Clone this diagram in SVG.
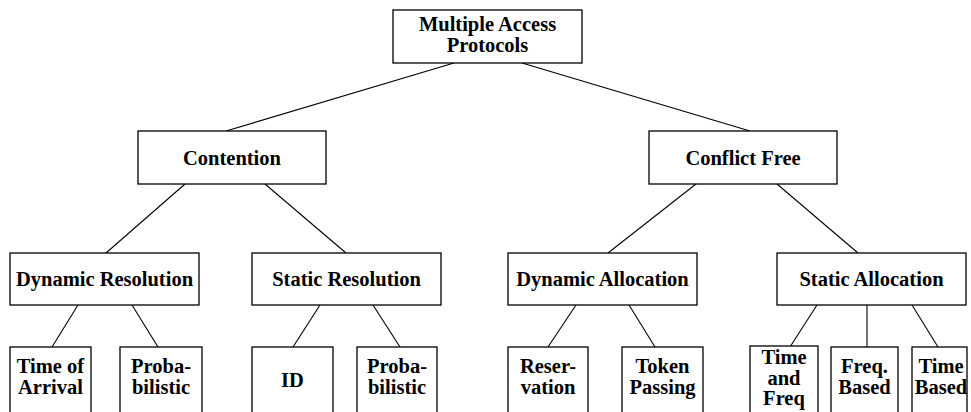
<svg xmlns="http://www.w3.org/2000/svg" width="971" height="412" viewBox="0 0 971 412">
<style>
.box{fill:#fff;stroke:#000;stroke-width:1.3}
.t{font-family:'Liberation Serif', Tinos, 'Times New Roman', Times, serif;font-weight:700;font-size:20.5px;text-anchor:middle;fill:#000}
.c line{stroke:#000;stroke-width:1.1}
</style>
<rect width="971" height="412" fill="#fff"/>
<g class="c" id="connectors">
<line x1="454" y1="63" x2="226" y2="131"/>
<line x1="522" y1="63" x2="750" y2="131"/>
<line x1="185" y1="184" x2="106" y2="253"/>
<line x1="265" y1="184" x2="346" y2="253"/>
<line x1="696" y1="184" x2="608" y2="253"/>
<line x1="777" y1="184" x2="858" y2="253"/>
<line x1="78" y1="305" x2="52" y2="347"/>
<line x1="132" y1="305" x2="158" y2="347"/>
<line x1="320" y1="305" x2="293" y2="347"/>
<line x1="373" y1="305" x2="400" y2="347"/>
<line x1="576" y1="305" x2="548" y2="347"/>
<line x1="629" y1="305" x2="655" y2="347"/>
<line x1="817" y1="305" x2="790" y2="347"/>
<line x1="867" y1="305" x2="867" y2="347"/>
<line x1="912" y1="305" x2="938" y2="347"/>
</g>
<g id="root"><rect class="box" x="393" y="10" width="189" height="53"/><text class="t" x="487.5" y="31">Multiple Access</text><text class="t" x="487.5" y="52">Protocols</text></g>
<g id="contention"><rect class="box" x="138" y="131" width="188" height="53"/><text class="t" x="232" y="165">Contention</text></g>
<g id="conflictfree"><rect class="box" x="649" y="131" width="188" height="53"/><text class="t" x="743" y="165">Conflict Free</text></g>
<g id="dynres"><rect class="box" x="10" y="253" width="189" height="52"/><text class="t" x="104.5" y="286">Dynamic Resolution</text></g>
<g id="statres"><rect class="box" x="252" y="253" width="189" height="52"/><text class="t" x="346.5" y="286">Static Resolution</text></g>
<g id="dynalloc"><rect class="box" x="508" y="253" width="189" height="52"/><text class="t" x="602.5" y="286">Dynamic Allocation</text></g>
<g id="statalloc"><rect class="box" x="777" y="253" width="189" height="52"/><text class="t" x="871.5" y="286">Static Allocation</text></g>
<g id="toa"><rect class="box" x="10" y="347" width="81" height="80"/><text class="t" x="50.5" y="373">Time of</text><text class="t" x="50.5" y="394">Arrival</text></g>
<g id="prob1"><rect class="box" x="120" y="347" width="82" height="80"/><text class="t" x="161" y="373">Proba-</text><text class="t" x="161" y="394">bilistic</text></g>
<g id="id"><rect class="box" x="252" y="347" width="81" height="80"/><text class="t" x="292.5" y="387">ID</text></g>
<g id="prob2"><rect class="box" x="357" y="347" width="80" height="80"/><text class="t" x="397" y="373">Proba-</text><text class="t" x="397" y="394">bilistic</text></g>
<g id="reservation"><rect class="box" x="508" y="347" width="80" height="80"/><text class="t" x="548" y="373">Reser-</text><text class="t" x="548" y="394">vation</text></g>
<g id="token"><rect class="box" x="622" y="347" width="81" height="80"/><text class="t" x="662.5" y="373">Token</text><text class="t" x="662.5" y="394">Passing</text></g>
<g id="timefreq"><rect class="box" x="750" y="346" width="68" height="80"/><text class="t" x="784" y="364">Time</text><text class="t" x="784" y="385">and</text><text class="t" x="784" y="405">Freq</text></g>
<g id="freqbased"><rect class="box" x="831" y="347" width="67" height="80"/><text class="t" x="864.5" y="373">Freq.</text><text class="t" x="864.5" y="394">Based</text></g>
<g id="timebased"><rect class="box" x="912" y="347" width="55" height="80"/><text class="t" x="941" y="373">Time</text><text class="t" x="941" y="394">Based</text></g>
</svg>
